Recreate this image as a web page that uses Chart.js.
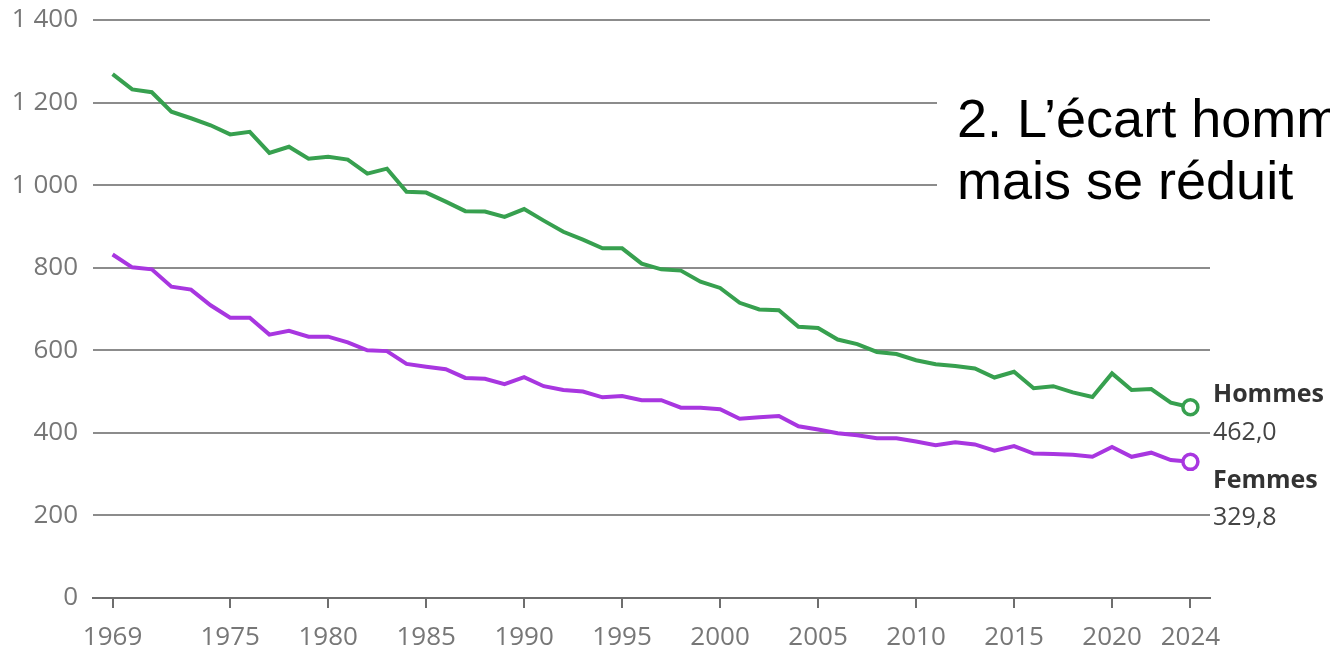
<!DOCTYPE html>
<html><head><meta charset="utf-8">
<script src="https://cdn.jsdelivr.net/npm/chart.js@4/dist/chart.umd.min.js"></script>
<style>
html,body{margin:0;padding:0;background:#fff;overflow:hidden;}
#wrap{position:relative;width:1330px;height:649px;}
#title{position:absolute;left:937px;top:87px;width:373px;padding-left:20px;background:#fff;
 font-family:"Liberation Sans",Arial,sans-serif;font-size:54px;line-height:62px;color:#000;white-space:nowrap;overflow:hidden;}
</style></head>
<body>
<div id="wrap"><canvas id="c" width="1330" height="649"></canvas>
<div id="title">2. L’écart homm<br>mais se réduit</div></div>
<script>
const years = [];
for (let y = 1969; y <= 2024; y++) years.push(y);
const hommes = [1269,1232,1225,1178,1162,1145,1123,1129,1078,1093,1064,1069,1062,1028,1040,984,982,960,937,936,923,942,914,887,868,847,847,810,796,793,766,751,715,699,697,657,654,626,615,596,591,576,566,562,556,534,548,508,513,498,487,544,504,506,473,462.0];
const femmes = [832,801,796,754,747,709,679,679,638,647,633,633,619,600,598,567,560,554,533,531,518,535,513,504,500,486,489,479,479,461,461,457,434,438,441,416,408,399,394,387,387,379,370,377,372,357,368,350,349,347,342,366,342,352,334,329.8];
const xTicks = [1969,1975,1980,1985,1990,1995,2000,2005,2010,2015,2020,2024];
const yTicks = [0,200,400,600,800,1000,1200,1400];
const seriesNames = ["Hommes","Femmes"];
const GREEN = "#37a04f", PURPLE = "#a836e0";

function toPts(arr){ return arr.map((v,i)=>({x:years[i], y:v})); }
function lastOnly(n, r){ return Array.from({length:n},(_,i)=> i===n-1 ? r : 0); }
const fmt = v => v.toFixed(1).replace('.', ',');

const endLabels = {
  id:'endLabels',
  afterDatasetsDraw(chart){
    const ctx = chart.ctx, ys = chart.scales.y, xs = chart.scales.x;
    const offs = [[-5, 33],[26, 63]];
    chart.data.datasets.forEach((ds, i) => {
      const last = ds.data[ds.data.length-1];
      const py = ys.getPixelForValue(last.y);
      const px = xs.right + 3;
      ctx.save();
      ctx.textAlign = 'left'; ctx.textBaseline = 'alphabetic';
      ctx.fillStyle = '#333';
      ctx.font = 'bold 25px "Open Sans"';
      ctx.fillText(seriesNames[i], px, py + offs[i][0]);
      ctx.fillStyle = '#444';
      ctx.font = '25px "Open Sans"';
      ctx.fillText(fmt(last.y), px, py + offs[i][1]);
      ctx.restore();
    });
  }
};

new Chart(document.getElementById('c'), {
  type: 'line',
  data: {
    datasets: [
      {label: seriesNames[0], data: toPts(hommes), borderColor: GREEN, borderWidth: 4,
       pointRadius: lastOnly(hommes.length, 7.5), pointBorderWidth: 3.5, pointBorderColor: GREEN,
       pointBackgroundColor: '#fff', tension: 0, clip: false},
      {label: seriesNames[1], data: toPts(femmes), borderColor: PURPLE, borderWidth: 4,
       pointRadius: lastOnly(femmes.length, 7.5), pointBorderWidth: 3.5, pointBorderColor: PURPLE,
       pointBackgroundColor: '#fff', tension: 0, clip: false}
    ]
  },
  options: {
    responsive: false, animation: false, devicePixelRatio: 1,
    layout: {padding: {top: 20, right: 120, left: 0, bottom: 0}},
    plugins: {legend: {display: false}, tooltip: {enabled: false}},
    scales: {
      x: {
        type: 'linear', min: 1968, max: 2025,
        afterBuildTicks: s => { s.ticks = xTicks.map(v => ({value: v})); },
        afterFit: s => { s.height = 51; s.paddingLeft = 0; s.paddingRight = 0; },
        ticks: {callback: v => String(v), color: '#777', font: {family: 'Open Sans', size: 26}, padding: 14, maxRotation: 0, autoSkip: false},
        grid: {drawOnChartArea: false, drawTicks: true, tickLength: 10, color: '#6e6e6e', lineWidth: 2},
        border: {display: true, color: '#6e6e6e', width: 2}
      },
      y: {
        min: 0, max: 1400,
        afterBuildTicks: s => { s.ticks = yTicks.map(v => ({value: v})); },
        afterFit: s => { s.width = 93; s.paddingTop = 0; s.paddingBottom = 0; },
        ticks: {callback: v => String(v).replace(/\B(?=(\d{3})+(?!\d))/g, ' '), color: '#777',
                font: {family: 'Open Sans', size: 26}, padding: 15},
        grid: {drawTicks: false, color: '#8c8c8c', lineWidth: 2},
        border: {display: false}
      }
    }
  },
  plugins: [endLabels]
});
</script>
</body></html>
